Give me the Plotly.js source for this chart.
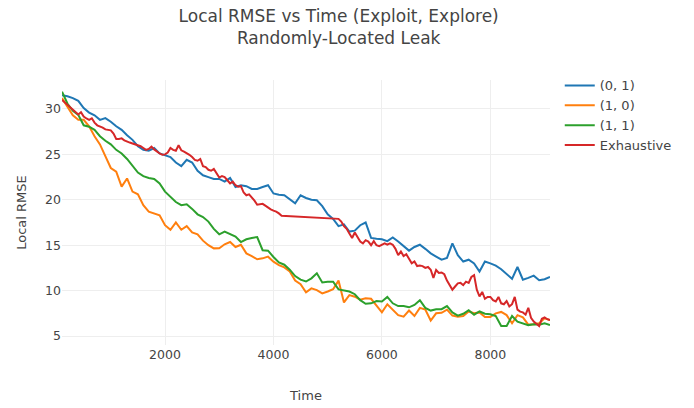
<!DOCTYPE html>
<html><head><meta charset="utf-8">
<script src="https://cdn.plot.ly/plotly-3.0.1.min.js"></script>
<style>html,body{margin:0;padding:0;background:#fff}</style>
</head><body><div id="chart" style="width:694px;height:408px"></div>
<script>
function range(a, b, s) { var r = []; for (var v = a; v <= b; v += s) r.push(v); return r; }

var seriesNames = ['(0, 1)', '(1, 0)', '(1, 1)', 'Exhaustive'];
var colors = ['#1f77b4', '#ff7f0e', '#2ca02c', '#d62728'];

var time = range(100, 9100, 100);

var rmse01 = [
  31.5, 31.4, 31.2, 30.9, 30.1, 29.6, 29.3, 28.8, 29.0, 28.6,
  28.1, 27.7, 27.1, 26.6, 25.9, 25.5, 25.4, 25.7, 25.1, 24.9,
  24.7, 24.1, 23.7, 24.4, 24.1, 23.2, 22.7, 22.5, 22.3, 22.3,
  22.0, 22.4, 21.4, 21.6, 21.5, 21.2, 21.2, 21.4, 21.6, 20.7,
  20.55, 20.5, 20.0, 19.6, 20.5, 20.2, 20.0, 19.95, 19.3, 18.4,
  17.9, 17.1, 17.3, 16.5, 16.6, 17.2, 17.5, 15.8, 15.7, 15.65,
  15.45, 15.85, 15.4, 14.9, 14.4, 14.8, 15.05, 14.6, 14.1, 13.75,
  13.4, 13.6, 15.2, 13.9, 13.2, 13.4, 13.0, 12.1, 13.2, 13.0,
  12.75, 12.35, 11.8, 11.3, 12.6, 11.2, 11.4, 11.65, 11.15, 11.25,
  11.5
];

var rmse10 = [
  31.2, 30.3, 29.3, 28.8, 28.8, 28.1, 27.0, 26.1, 24.8, 23.5,
  23.1, 21.45, 22.35, 20.9, 20.6, 19.4, 18.7, 18.5, 18.3, 17.2,
  16.7, 17.5, 16.7, 17.1, 16.4, 16.2, 15.5, 15.0, 14.65, 14.67,
  15.1, 15.35, 14.8, 15.05, 14.1, 13.8, 13.45, 13.55, 13.74, 13.19,
  12.8, 12.55, 12.1, 11.1, 10.7, 9.8, 10.25, 10.05, 9.7, 9.9,
  10.15, 11.1, 8.7, 9.5, 9.33, 9.0, 9.15, 9.1, 8.4, 7.6,
  8.5, 7.87, 7.3, 7.13, 7.8, 7.2, 8.1, 7.9, 6.7, 7.5,
  7.55, 7.9, 7.25, 7.13, 7.2, 7.7, 7.5, 7.6, 7.1, 7.1,
  7.5, 7.65, 7.3, 6.4, 7.3, 7.05, 6.25, 6.3, 6.4, 6.95,
  6.76
];

var rmse11 = [
  31.9, 30.6, 29.8, 29.35, 28.2, 28.05, 27.7, 27.0, 26.5, 26.1,
  25.5, 25.1, 24.5, 23.8, 23.0, 22.6, 22.4, 22.3, 21.8, 20.9,
  20.3, 19.75, 19.4, 19.5, 19.0, 18.4, 18.1, 17.6, 16.8, 16.2,
  16.5, 16.2, 15.95, 15.35, 15.65, 15.8, 15.9, 14.45, 14.4, 13.7,
  13.1, 12.85, 12.3, 11.6, 11.2, 11.0, 11.35, 11.9, 10.9, 10.98,
  10.98, 10.13, 10.05, 9.9, 9.6, 8.95, 8.55, 8.6, 8.85, 8.8,
  9.3, 8.6, 8.3, 8.3, 8.16, 8.42, 8.95, 8.1, 7.8, 7.95,
  7.95, 8.3, 7.6, 7.25, 7.45, 7.85, 7.35, 7.7, 7.45, 7.4,
  7.2, 6.1, 6.1, 7.2, 6.58, 6.4, 6.2, 6.3, 6.25, 6.4,
  6.2
];

var timeExhaustive = range(100, 4150, 50).concat(range(5200, 9100, 50));

var rmseExhaustive = [
  31.0, 30.75, 30.5, 30.25, 29.95, 29.65, 29.4, 29.65, 29.16, 28.95,
  28.8, 28.97, 28.5, 28.2, 28.1, 27.95, 27.75, 27.7, 27.65, 27.3,
  26.7, 26.7, 26.76, 26.55, 26.4, 26.3, 26.2, 26.1, 26.0, 25.9,
  25.7, 25.5, 25.6, 25.85, 25.55, 25.3, 25.1, 24.95, 25.0, 25.2,
  25.7, 25.5, 25.4, 26.0, 25.45, 25.3, 25.15, 24.95, 24.7, 24.4,
  24.3, 24.5, 23.7, 23.6, 23.3, 23.2, 23.4, 22.9, 22.45, 22.6,
  22.5, 22.15, 21.8, 22.0, 21.6, 21.45, 21.5, 20.8, 20.5, 20.6,
  20.3, 19.9, 19.45, 19.5, 19.55, 19.35, 19.1, 18.95, 18.8, 18.7,
  18.5, 18.25,
  17.9, 17.6, 17.1, 16.8, 16.3, 15.8, 16.4, 15.95, 15.4, 15.2,
  15.55, 15.4, 15.0, 15.45, 15.0, 14.9, 15.05, 15.2, 15.05, 15.2,
  15.05, 14.6, 13.9, 14.3, 13.8, 14.0, 13.5, 13.0, 13.2, 12.7,
  12.75, 12.7, 12.5, 12.6, 12.3, 11.4, 12.27, 11.95, 12.0, 11.8,
  11.1, 10.6, 10.1, 10.45, 10.8, 10.85, 10.6, 10.98, 10.85, 11.5,
  11.7, 10.1, 9.35, 9.85, 9.1, 9.3, 9.3, 8.95, 8.8, 9.3,
  8.6, 8.5, 8.85, 8.25, 8.5, 9.3, 7.9, 7.68, 7.6, 7.35,
  8.1, 7.0, 6.6, 6.35, 6.1, 6.9, 7.05, 6.85, 6.76
];

var xs = [time, time, time, timeExhaustive];
var ys = [rmse01, rmse10, rmse11, rmseExhaustive];

var traces = seriesNames.map(function (n, i) {
  return { x: xs[i], y: ys[i], name: n, type: 'scatter', mode: 'lines',
           line: { color: colors[i], width: 2 } };
});

var layout = {
  width: 694, height: 408,
  margin: { l: 62, r: 144, t: 80, b: 63 },
  paper_bgcolor: '#fff', plot_bgcolor: '#fff',
  font: { family: 'DejaVu Sans, Verdana, sans-serif', size: 12.5, color: '#444' },
  title: { text: 'Local RMSE vs Time (Exploit, Explore)<br>Randomly-Located Leak',
           font: { size: 17, color: '#444' }, x: 0.488, xanchor: 'center',
           xref: 'container', yref: 'container', y: 0.946, yanchor: 'middle' },
  xaxis: { title: { text: 'Time', font: { size: 13 }, standoff: 30 }, range: [100, 9100],
           showgrid: true, gridcolor: '#eee', zeroline: false, showline: false, ticks: '',
           tickvals: [2000, 4000, 6000, 8000] },
  yaxis: { title: { text: 'Local RMSE', font: { size: 13 } }, range: [4.01, 33.19],
           showgrid: true, gridcolor: '#eee', zeroline: false, showline: false, ticks: '',
           tickvals: [5, 10, 15, 20, 25, 30] },
  legend: { x: 1.02, y: 1.036, font: { size: 13 } },
  showlegend: true
};

Plotly.newPlot('chart', traces, layout, { displayModeBar: false, staticPlot: true });
</script></body></html>
